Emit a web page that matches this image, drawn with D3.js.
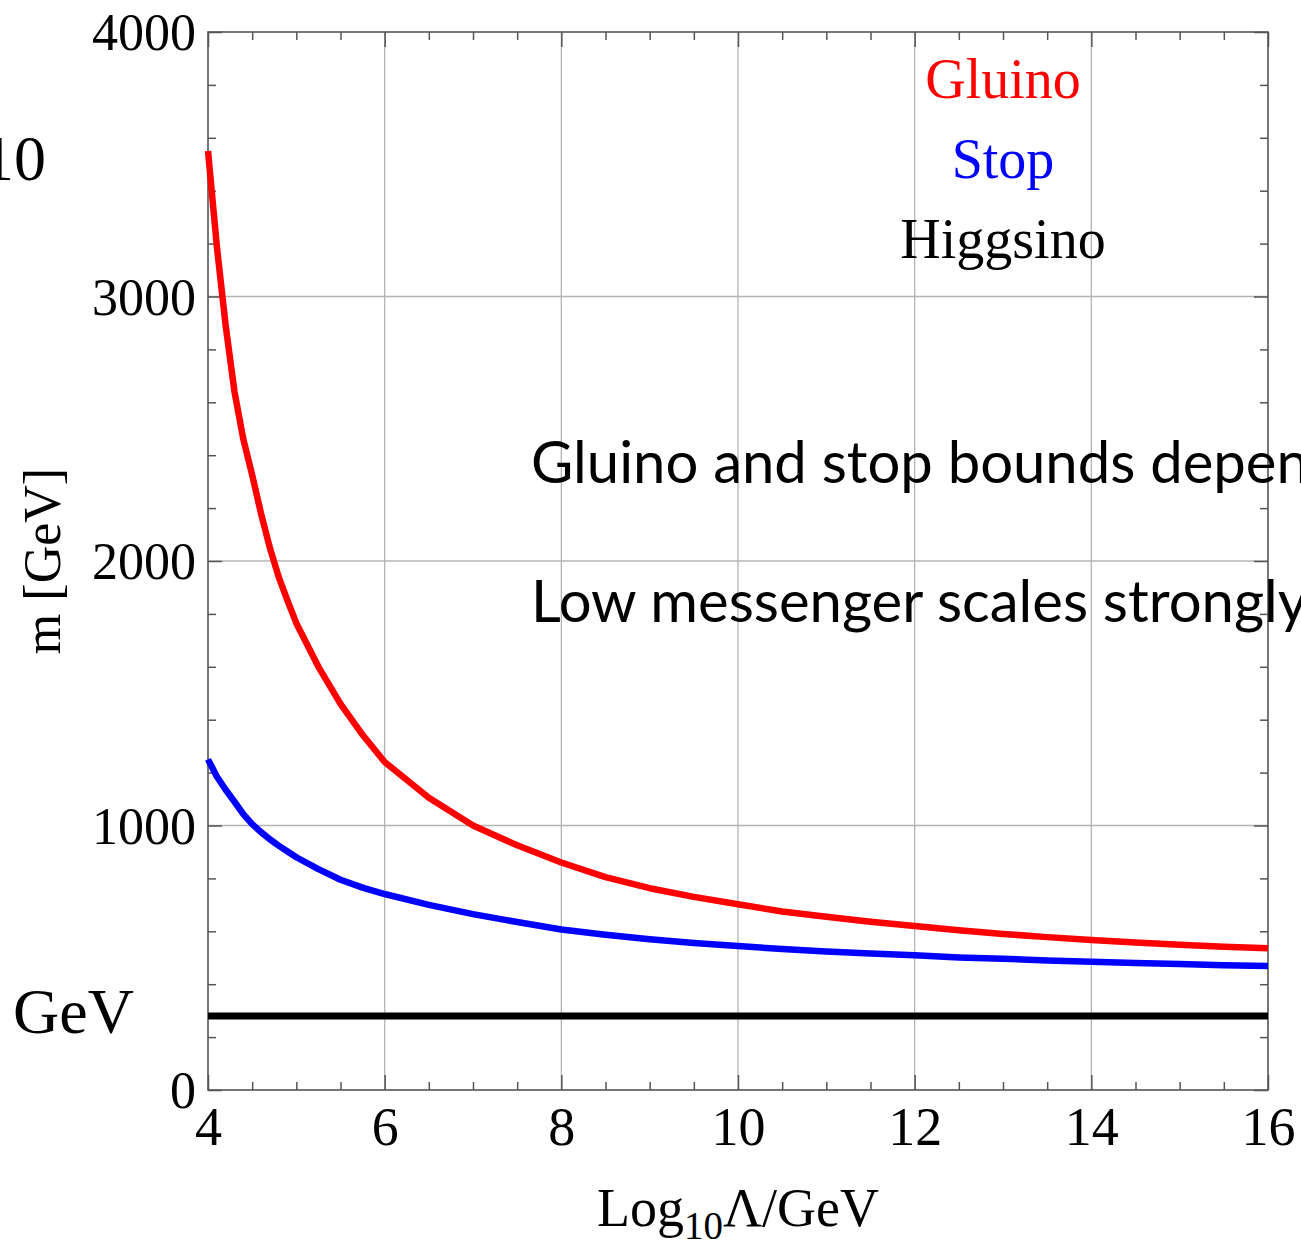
<!DOCTYPE html>
<html>
<head>
<meta charset="utf-8">
<script src="https://cdn.jsdelivr.net/npm/d3@7"></script>
<style>
  html, body { margin: 0; padding: 0; background: #fff; }
  svg { display: block; }
</style>
</head>
<body>
<svg id="chart" width="1301" height="1244"></svg>
<script>
// Messenger scale, log10(Lambda / GeV)
const logLambda = [4, 4.1, 4.2, 4.3, 4.4, 4.5, 4.6, 4.7, 4.8, 4.9, 5, 5.25, 5.5, 5.75, 6, 6.5, 7, 7.5, 8, 8.5, 9, 9.5,
                   10, 10.5, 11, 11.5, 12, 12.5, 13, 13.5, 14, 14.5, 15, 15.5, 16];
// Lower bounds on the masses [GeV]
const gluinoMass = [3550, 3190, 2890, 2640, 2460, 2325, 2180, 2050, 1940, 1850, 1765, 1600, 1460, 1343, 1240, 1105, 1000, 925, 860, 805, 763, 730,
                    702, 675, 655, 636, 620, 604, 590, 578, 567, 558, 549, 542, 536];
const stopMass   = [1250, 1185, 1135, 1090, 1043, 1005, 975, 948, 924, 902, 880, 835, 795, 765, 741, 700, 665, 635, 607, 587, 570, 556,
                    544, 533, 524, 516, 509, 501, 496, 490, 485, 480, 476, 472, 469];
const higgsinoMass = [280, 280];
const higgsinoRange = [4, 16];

const xTicks = [4, 6, 8, 10, 12, 14, 16];
const yTicks = [0, 1000, 2000, 3000, 4000];
const legendLabels = ["Gluino", "Stop", "Higgsino"];
const legendColors = ["#ff0000", "#0000ff", "#000000"];
const noteLines = ["Gluino and stop bounds depend on the messenger scale",
                   "Low messenger scales strongly constrained"];

const W = 1301, H = 1244;
const margin = { left: 208, right: 33, top: 32, bottom: 154 };
const svg = d3.select("#chart");

const x = d3.scaleLinear().domain([4, 16]).range([margin.left, W - margin.right]);
const y = d3.scaleLinear().domain([0, 4000]).range([H - margin.bottom, margin.top]);

const serif = "'Liberation Serif', 'Times New Roman', serif";

// grid lines
const grid = svg.append("g").attr("stroke", "#b4b4b4").attr("stroke-width", 1.3);
grid.selectAll(".gx").data(xTicks.slice(1, -1)).join("line")
  .attr("x1", d => x(d)).attr("x2", d => x(d))
  .attr("y1", y(0)).attr("y2", y(4000));
grid.selectAll(".gy").data(yTicks.slice(1, -1)).join("line")
  .attr("y1", d => y(d)).attr("y2", d => y(d))
  .attr("x1", x(4)).attr("x2", x(16));

// frame ticks (inward), major + minor on all four sides
const minorX = d3.range(4, 16.001, 0.5).filter(v => !xTicks.includes(v));
const minorY = d3.range(0, 4000.1, 200).filter(v => !yTicks.includes(v));

function frameAxis(axisFn, scale, translate, values, size) {
  const g = svg.append("g").attr("transform", translate)
    .call(axisFn(scale).tickValues(values).tickSize(size).tickFormat(""));
  g.select(".domain").remove();
  g.selectAll(".tick line").attr("stroke", "#555").attr("stroke-width", 1.5);
  return g;
}
const bottomT = `translate(0,${y(0)})`, topT = `translate(0,${y(4000)})`;
const leftT = `translate(${x(4)},0)`, rightT = `translate(${x(16)},0)`;
frameAxis(d3.axisBottom, x, bottomT, xTicks, -15);
frameAxis(d3.axisBottom, x, bottomT, minorX, -8);
frameAxis(d3.axisTop, x, topT, xTicks, -15);
frameAxis(d3.axisTop, x, topT, minorX, -8);
frameAxis(d3.axisLeft, y, leftT, yTicks, -14);
frameAxis(d3.axisLeft, y, leftT, minorY, -8);
frameAxis(d3.axisRight, y, rightT, yTicks, -14);
frameAxis(d3.axisRight, y, rightT, minorY, -8);

// frame
svg.append("rect")
  .attr("x", x(4)).attr("y", y(4000))
  .attr("width", x(16) - x(4)).attr("height", y(0) - y(4000))
  .attr("fill", "none").attr("stroke", "#555").attr("stroke-width", 1.6);

// tick labels
const xLab = svg.append("g").attr("transform", bottomT)
  .call(d3.axisBottom(x).tickValues(xTicks).tickSize(0).tickPadding(0).tickFormat(d3.format("d")));
xLab.select(".domain").remove();
xLab.selectAll("text").attr("y", 55).attr("dy", null)
  .style("font-family", serif).style("font-size", "54px").attr("fill", "#000");

const yLab = svg.append("g").attr("transform", leftT)
  .call(d3.axisLeft(y).tickValues(yTicks).tickSize(0).tickPadding(12).tickFormat(d3.format("d")));
yLab.select(".domain").remove();
yLab.selectAll("text").attr("dy", "0.34em")
  .style("font-family", serif).style("font-size", "52px").attr("fill", "#000");

// curves
const line = d3.line().x(d => x(d[0])).y(d => y(d[1]));
svg.append("path").datum([[higgsinoRange[0], higgsinoMass[0]], [higgsinoRange[1], higgsinoMass[1]]])
  .attr("d", line).attr("fill", "none").attr("stroke", legendColors[2]).attr("stroke-width", 7);
svg.append("path").datum(d3.zip(logLambda, stopMass))
  .attr("d", line).attr("fill", "none").attr("stroke", legendColors[1]).attr("stroke-width", 6.5)
  .attr("stroke-linejoin", "round");
svg.append("path").datum(d3.zip(logLambda, gluinoMass))
  .attr("d", line).attr("fill", "none").attr("stroke", legendColors[0]).attr("stroke-width", 6.5)
  .attr("stroke-linejoin", "round");

// legend
svg.append("g").selectAll("text").data(legendLabels).join("text")
  .attr("x", 1003).attr("y", (d, i) => 98 + i * 80)
  .attr("text-anchor", "middle")
  .attr("fill", (d, i) => legendColors[i])
  .style("font-family", serif).style("font-size", "56px")
  .text(d => d);

// axis titles
svg.append("text")
  .attr("transform", `translate(60,${(y(0) + y(4000)) / 2}) rotate(-90)`)
  .attr("text-anchor", "middle")
  .style("font-family", serif).style("font-size", "52px")
  .text("m [GeV]");

const xt = svg.append("text")
  .attr("x", (x(4) + x(16)) / 2).attr("y", 1226)
  .attr("text-anchor", "middle")
  .style("font-family", serif).style("font-size", "54px");
xt.append("tspan").text("Log");
xt.append("tspan").attr("dy", 13).style("font-size", "39px").text("10");
xt.append("tspan").attr("dy", -13).text("Λ/GeV");

// annotations on the left margin
svg.append("text").attr("x", 46).attr("y", 180).attr("text-anchor", "end")
  .style("font-family", serif).style("font-size", "64px").text("10");
svg.append("text").attr("x", 13).attr("y", 1033)
  .style("font-family", serif).style("font-size", "64px").text("GeV");

// notes overlaid on the plot
svg.append("g").selectAll("text").data(noteLines).join("text")
  .attr("x", 531).attr("y", (d, i) => 483 + i * 139)
  .style("font-family", "Lato, 'Open Sans', sans-serif").style("font-size", "58px")
  .attr("fill", "#000")
  .text(d => d);
</script>
</body>
</html>
